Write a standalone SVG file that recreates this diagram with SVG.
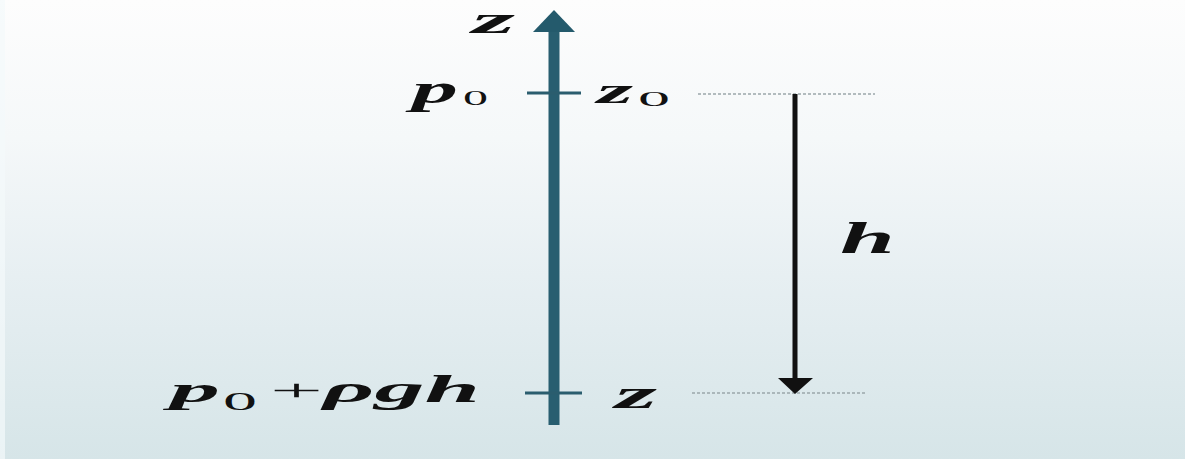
<svg xmlns="http://www.w3.org/2000/svg" width="1185" height="459" viewBox="0 0 1185 459">
<defs>
<linearGradient id="bg" x1="0" y1="0" x2="0" y2="1">
<stop offset="0" stop-color="#fdfdfd"/>
<stop offset="0.3" stop-color="#f5f8f9"/>
<stop offset="0.6" stop-color="#e7eff2"/>
<stop offset="1" stop-color="#d6e5e8"/>
</linearGradient>
<style>
.it{font-family:"Liberation Serif","Times New Roman",serif;font-style:italic;font-weight:bold;fill:#111}
.up{font-family:"Liberation Serif","Times New Roman",serif;font-weight:normal;fill:#111}
.tick{stroke:#2a5d6e;stroke-width:3}
.dot{stroke:#9aa6aa;stroke-width:1.5;stroke-dasharray:3 2;fill:none}
</style>
</defs>
<rect x="0" y="0" width="1185" height="459" fill="url(#bg)"/>
<rect x="0" y="0" width="5" height="459" fill="#f4fafb" opacity="0.7"/>
<g id="axis">
<rect x="548.5" y="30" width="11" height="395" fill="#285e70"/>
<polygon points="554,10 575,32 533,32" fill="#245a6c"/>
<line class="tick" x1="527" y1="93" x2="581" y2="93"/>
<line class="tick" x1="525" y1="393" x2="582" y2="393"/>
</g>
<g id="label-z-axis">
<text class="it" x="472" y="33" font-size="37" textLength="43" lengthAdjust="spacingAndGlyphs">z</text>
</g>
<g id="label-p0">
<text class="it" x="412" y="103" font-size="40" textLength="46" lengthAdjust="spacingAndGlyphs">p</text>
<text class="up" x="463" y="105" font-size="21" textLength="25" lengthAdjust="spacingAndGlyphs">0</text>
</g>
<g id="label-z0">
<text class="it" x="597" y="103" font-size="36" textLength="36" lengthAdjust="spacingAndGlyphs">z</text>
<text class="up" x="638" y="106" font-size="21" textLength="32" lengthAdjust="spacingAndGlyphs">0</text>
</g>
<g id="label-p0-rhogh">
<text class="it" x="170" y="402" font-size="36" textLength="50" lengthAdjust="spacingAndGlyphs">p</text>
<text class="up" x="223" y="410" font-size="26" textLength="34" lengthAdjust="spacingAndGlyphs">0</text>
<text class="up" x="270" y="400" font-size="30" textLength="53" lengthAdjust="spacingAndGlyphs">+</text>
<text class="it" x="323" y="402" font-size="38" textLength="157" lengthAdjust="spacingAndGlyphs">ρgh</text>
</g>
<g id="label-z">
<text class="it" x="615" y="408" font-size="42" textLength="42" lengthAdjust="spacingAndGlyphs">z</text>
</g>
<g id="label-h">
<text class="it" x="840" y="253" font-size="44" textLength="55" lengthAdjust="spacingAndGlyphs">h</text>
</g>
<g id="connectors">
<line class="dot" x1="698" y1="94" x2="875" y2="94"/>
<line class="dot" x1="692" y1="393" x2="867" y2="393"/>
<line x1="795" y1="94" x2="795" y2="380" stroke="#111" stroke-width="5"/>
<polygon points="778,378 813,378 795,394" fill="#111"/>
</g>
</svg>
